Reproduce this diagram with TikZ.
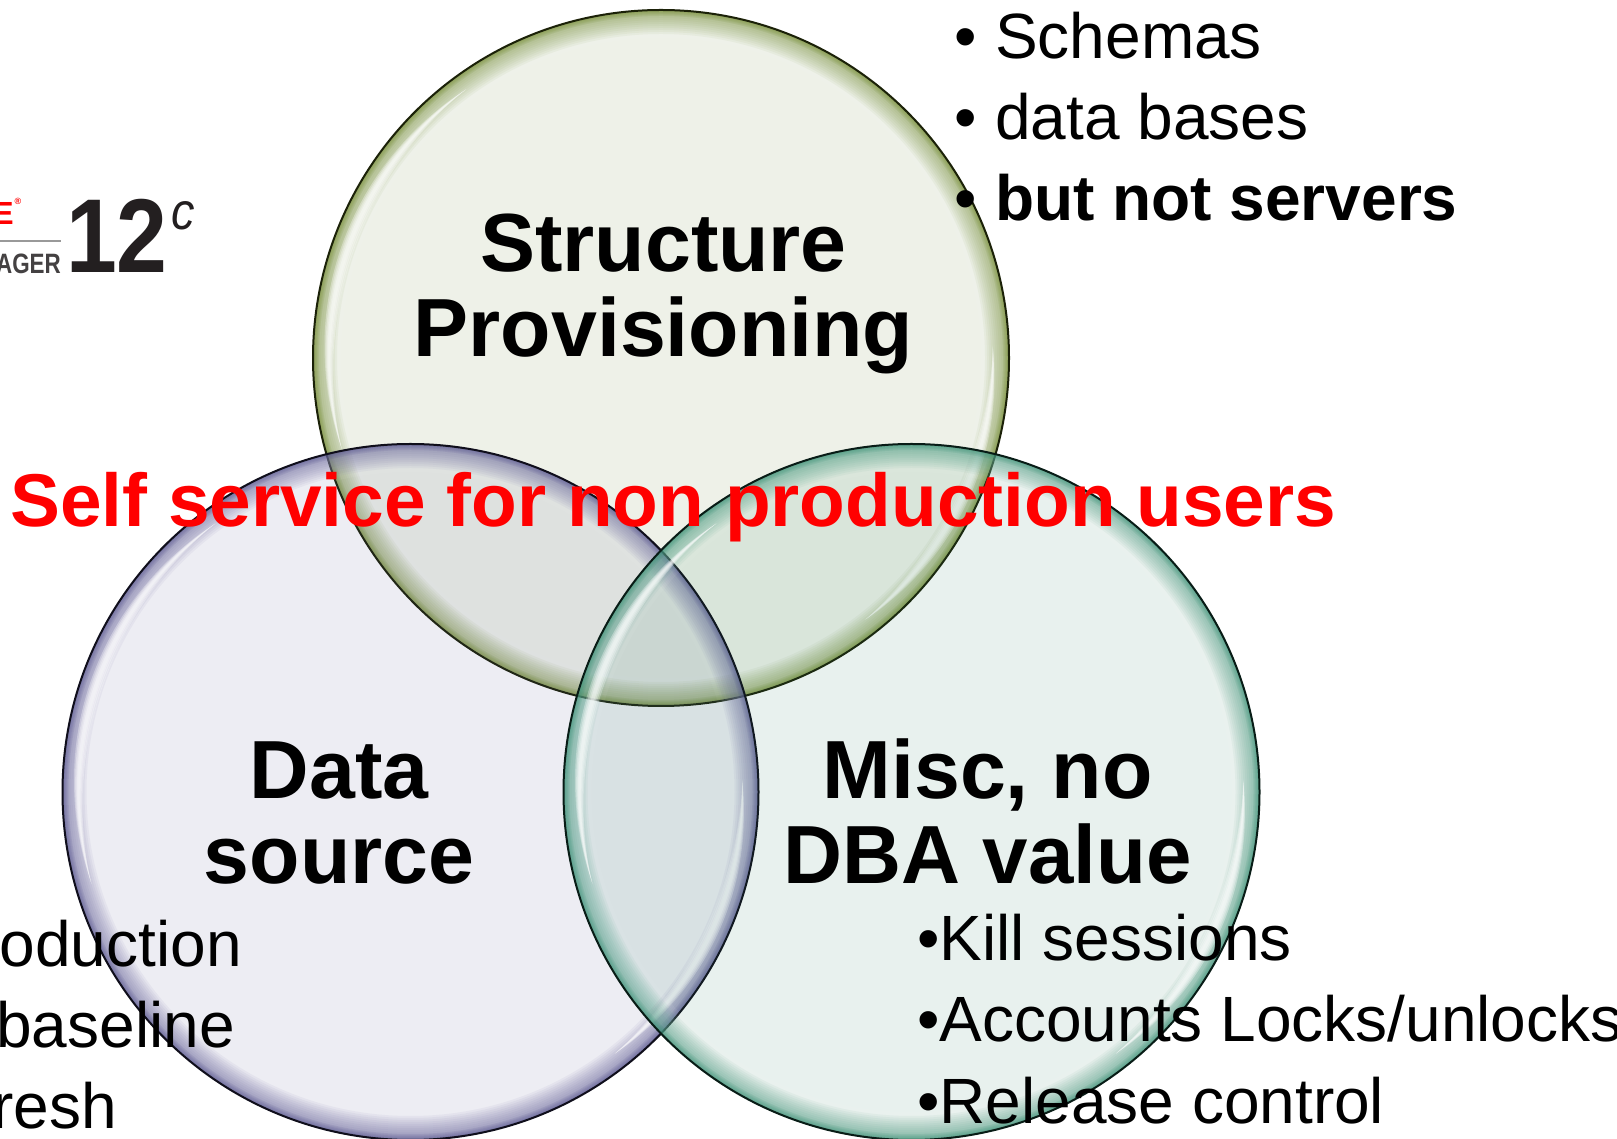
\documentclass[tikz,border=0pt]{standalone}
\usepackage{fontspec}
\setmainfont{Liberation Sans}
\definecolor{topfill}{HTML}{5F7A20}
\definecolor{leftfill}{HTML}{555591}
\definecolor{rightfill}{HTML}{237D5F}
\definecolor{toprim}{HTML}{6A8420}
\definecolor{leftrim}{HTML}{4A4788}
\definecolor{rightrim}{HTML}{2A8A6C}
\definecolor{logoink}{HTML}{231F20}
\newcommand{\fsz}[1]{\fontsize{#1}{#1}\selectfont}
% centre x, centre y, radius, angle from, angle to, width, colour
\newcommand{\crescentlayer}[7]{%
  \fill[#7,opacity=.3] plot[domain=0:1,samples=40,smooth] ({#1+(#3+#6*sin(180*\x))*cos(#4+(#5-#4)*\x)},{#2+(#3+#6*sin(180*\x))*sin(#4+(#5-#4)*\x)})
    -- plot[domain=1:0,samples=40,smooth] ({#1+(#3-#6*sin(180*\x))*cos(#4+(#5-#4)*\x)},{#2+(#3-#6*sin(180*\x))*sin(#4+(#5-#4)*\x)}) -- cycle;}
\newcommand{\crescentglow}[6]{%
  \crescentlayer{#1}{#2}{#3}{#4}{#5}{#6}{white}%
  \crescentlayer{#1}{#2}{#3}{#4}{#5}{0.75*#6}{white}%
  \crescentlayer{#1}{#2}{#3}{#4}{#5}{0.5*#6}{white}%
  \crescentlayer{#1}{#2}{#3}{#4}{#5}{0.28*#6}{white}}
% centre x, centre y, fill, rim, line
\newcommand{\glassdisc}[5]{%
  \fill[#3,opacity=.1] (#1,#2) circle[radius=348];
  \foreach \k in {4,8,...,28}{\draw[white,opacity=.05,line width=\k] (#1,#2) circle[radius=348-\k/2];}
  \foreach \k in {2,4,...,24}{\draw[#4,opacity=.055,line width=\k] (#1,#2) circle[radius=348-\k/2];}
  \foreach \k in {1,2,...,6}{\draw[#4,opacity=.08,line width=\k] (#1,#2) circle[radius=348-\k/2];}
  \crescentglow{#1}{#2}{332}{126}{196}{6.5}
  \crescentglow{#1}{#2}{332}{-52}{2}{6.5}
  \draw[#5,line width=2] (#1,#2) circle[radius=348];}
\tikzset{
  headtext/.style={font=\bfseries\fsz{82.5},text=black,inner sep=0,anchor=base},
  listtext/.style={font=\fsz{64},text=black,inner sep=0,anchor=base west},
  lefttext/.style={font=\fsz{64},text=black,inner sep=0,anchor=base east},
  redtext/.style={font=\bfseries\fsz{74.8},text=red,inner sep=0,anchor=base west}
}
\begin{document}
\begin{tikzpicture}[x=1pt,y=1pt]
\useasboundingbox (0,0) rectangle (1617,1138);
\clip (0,0) rectangle (1617,1138);
\fill[white] (0,0) rectangle (1617,1138);
% logo
\node[font=\bfseries\fsz{32},text=red,inner sep=0,anchor=base east] (logoe) at (14,1138-225) {E};
\node[font=\bfseries\fsz{9},text=red,inner sep=0,anchor=center] (logor) at (18,1138-201) {®};
\draw[gray!80,line width=2.5] (0,1138-241) -- (61,1138-241);
\node[font=\bfseries\fsz{28},text=logoink!85,inner sep=0,anchor=base east,xscale=.8] (logoa) at (61,1138-274) {AGER};
\node[font=\bfseries\fsz{105},text=logoink,inner sep=0,anchor=base,xscale=.87] (logo12) at (117,1138-273) {12};
\node[font=\itshape\fsz{52},text=logoink,inner sep=0,anchor=base,xscale=.9] (logoc) at (183,1138-230) {c};
% discs
\glassdisc{661}{1138-358}{topfill}{toprim}{black!75!toprim}
\glassdisc{410.5}{1138-792}{leftfill}{leftrim}{black!80!leftrim}
\glassdisc{911.5}{1138-792}{rightfill}{rightrim}{black!80!rightrim}
% headings
\node[headtext] (s1) at (663.5,1138-272) {Structure};
\node[headtext] (s2) at (663.5,1138-357) {Provisioning};
\node[headtext] (d1) at (339,1138-799) {Data};
\node[headtext] (d2) at (339,1138-884) {source};
\node[headtext] (m1) at (987.5,1138-799) {Misc, no};
\node[headtext,xscale=.99] (m2) at (987.5,1138-884) {DBA value};
\node[redtext] (self) at (10,1138-527) {Self service for non production users};
% top list
\node[listtext] (b1) at (954,1138-59) {•};
\node[listtext] (t1) at (995,1138-59) {Schemas};
\node[listtext] (b2) at (954,1138-140) {•};
\node[listtext] (t2) at (995,1138-140) {data bases};
\node[listtext] (b3) at (954,1138-221) {•};
\node[listtext,font=\bfseries\fsz{64}] (t3) at (995,1138-221) {but not servers};
% right list
\node[listtext] (k1) at (917,1138-961) {•Kill sessions};
\node[listtext] (k2) at (917,1138-1042) {•Accounts Locks/unlocks};
\node[listtext] (k3) at (917,1138-1123) {•Release control};
% left list
\node[lefttext] (l1) at (242,1138-967) {oduction};
\node[lefttext] (l2) at (235,1138-1048) {baseline};
\node[lefttext] (l3) at (117,1138-1128) {resh};
\end{tikzpicture}
\end{document}
